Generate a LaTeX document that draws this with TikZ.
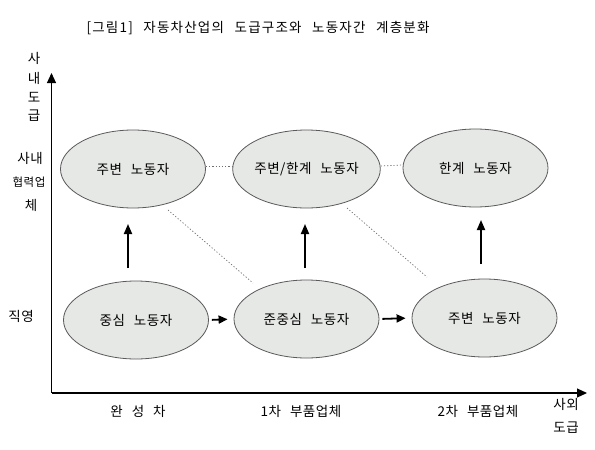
\documentclass[tikz,border=0pt]{standalone}
\usepackage{fontspec}
\newfontfamily\kr[WordSpace=2.5,LetterSpace=4]{Noto Sans CJK KR}
\newfontfamily\krtitle[WordSpace=2.5,LetterSpace=9]{Noto Sans CJK KR}
\usetikzlibrary{shapes.geometric,arrows.meta}
\definecolor{ellfill}{RGB}{230,232,229}
\definecolor{ellline}{RGB}{90,90,90}
\definecolor{dotline}{RGB}{110,110,110}
\begin{document}
\begin{tikzpicture}[x=1pt,y=-1pt,
  worker/.style={ellipse, draw=ellline, fill=ellfill, line width=0.8pt,
    minimum width=145pt, minimum height=78pt, inner sep=0pt,
    font=\kr\fontsize{13.5}{16}\selectfont},
  lbl/.style={inner sep=0pt, font=\kr\fontsize{13.5}{16}\selectfont},
  titlelbl/.style={inner sep=0pt, font=\krtitle\fontsize{13.5}{16}\selectfont},
  smalllbl/.style={inner sep=0pt, font=\kr\fontsize{11.5}{14}\selectfont},
  axis/.style={line width=1.1pt, -{Triangle[width=9pt,length=10pt]}},
  uparrow/.style={line width=1.8pt, -{Triangle[width=8pt,length=10pt]}},
  harrow/.style={line width=1.8pt, -{Triangle[width=8pt,length=9pt]},
    shorten <=3pt, shorten >=6pt},
  dotlink/.style={draw=dotline, line width=0.7pt, dash pattern=on 1.2pt off 2pt}]
\useasboundingbox[fill=white] (0,0) rectangle (595,450);

% title
\node[titlelbl] (title) at (258,28) {[그림1] 자동차산업의 도급구조와 노동자간 계층분화};

% axes
\coordinate (O) at (51.5,393);
\coordinate (ytop) at (51.5,73);
\coordinate (xend) at (587,393);
\draw[axis] (O) -- (ytop);
\draw[axis] (O) -- (xend);

% y labels
\node[lbl] (y1) at (34,58) {사};
\node[lbl] (y2) at (34,78) {내};
\node[lbl] (y3) at (34,97) {도};
\node[lbl] (y4) at (34,116) {급};
\node[lbl] (r1a) at (30,158) {사내};
\node[smalllbl] (r1b) at (29,182) {협력업};
\node[lbl] (r1c) at (31,205) {체};
\node[lbl] (r2) at (21,316) {직영};

% x labels
\node[lbl] (c1) at (138,411) {완 성 차};
\node[lbl] (c2) at (301,411) {1차 부품업체};
\node[lbl] (c3) at (478,411) {2차 부품업체};
\node[lbl] (xo1) at (566,404) {사외};
\node[lbl] (xo2) at (566,428) {도급};

% ellipses
\node[worker] (E1) at (133,169) {주변 노동자};
\node[worker] (E2) at (306.5,169) {주변/한계 노동자};
\node[worker] (E3) at (475.5,168) {한계 노동자};
\node[worker] (E4) at (136,320) {중심 노동자};
\node[worker] (E5) at (306.5,319) {준중심 노동자};
\node[worker] (E6) at (484.5,318) {주변 노동자};

% dotted links
\draw[dotlink] ([yshift=3pt]E1.east) -- ([yshift=3pt]E2.west);
\draw[dotlink] ([yshift=3pt]E2.east) -- ([yshift=3pt]E3.west);
\coordinate (d1a) at (168,210);
\coordinate (d1b) at (253,283);
\coordinate (d2a) at (347,208);
\coordinate (d2b) at (427,277);
\draw[dotlink] (d1a) -- (d1b);
\draw[dotlink] (d2a) -- (d2b);

% up arrows
\coordinate (u1s) at (128,268); \coordinate (u1e) at (128,224);
\coordinate (u2s) at (305,268); \coordinate (u2e) at (305,224);
\coordinate (u3s) at (481,264); \coordinate (u3e) at (481,220);
\draw[uparrow] (u1s) -- (u1e);
\draw[uparrow] (u2s) -- (u2e);
\draw[uparrow] (u3s) -- (u3e);

% horizontal arrows
\draw[harrow] (E4.east) -- (E5.west);
\draw[harrow] (E5.east) -- (E6.west);
\end{tikzpicture}
\end{document}
